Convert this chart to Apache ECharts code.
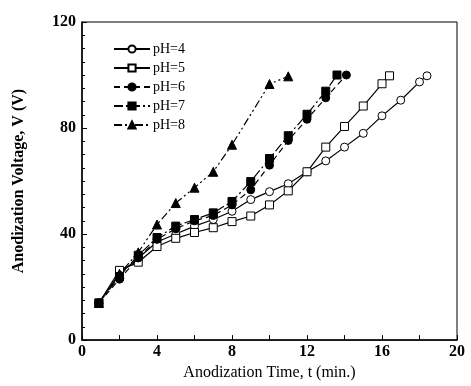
<!DOCTYPE html>
<html><head><meta charset="utf-8">
<script src="https://cdn.jsdelivr.net/npm/echarts@6/dist/echarts.min.js"></script>
<style>html,body{margin:0;padding:0;background:#fff}#c{width:471px;height:386px}</style>
</head><body><div id="c"></div>
<script>
var xTicks = [0, 4, 8, 12, 16, 20];
var yTicks = [0, 40, 80, 120];
var names = ['pH=4', 'pH=5', 'pH=6', 'pH=7', 'pH=8'];
var t4 = [0.9, 2, 3, 4, 5, 6, 7, 8, 9, 10, 11, 12, 13, 14, 15, 16, 17, 18, 18.4];
var v4 = [14, 25, 31, 37, 40, 43, 45.5, 48.6, 53, 56, 59, 63.5, 67.6, 72.8, 78, 84.6, 90.5, 97.4, 99.7];
var t5 = [0.9, 2, 3, 4, 5, 6, 7, 8, 9, 10, 11, 12, 13, 14, 15, 16, 16.4];
var v5 = [14, 26.3, 29.4, 35.3, 38.4, 40.6, 42.4, 44.7, 46.8, 51, 56.3, 63.5, 72.8, 80.6, 88.3, 96.7, 99.7];
var t6 = [0.9, 2, 3, 4, 5, 6, 7, 8, 9, 10, 11, 12, 13, 14.1];
var v6 = [14, 23, 31, 38, 42, 45, 47, 51, 56.7, 66, 75.3, 83.3, 91.4, 100];
var t7 = [0.9, 2, 3, 4, 5, 6, 7, 8, 9, 10, 11, 12, 13, 13.6];
var v7 = [14, 24, 32, 38.7, 43, 45.5, 48, 52.3, 59.8, 68.5, 77.1, 85.2, 93.9, 100];
var t8 = [0.9, 2, 3, 4, 5, 6, 7, 8, 10, 11];
var v8 = [14, 25, 33.1, 43.6, 51.7, 57.5, 63.5, 73.7, 96.6, 99.5];

function pairs(t, v) { return t.map(function (x, i) { return [x, v[i]]; }); }
var font = 'Liberation Serif, Times New Roman, serif';
var styles = [
  {sym: 'circle', fill: '#fff', type: 'solid'},
  {sym: 'rect', fill: '#fff', type: 'solid'},
  {sym: 'circle', fill: '#000', type: [6, 4]},
  {sym: 'rect', fill: '#000', type: [9, 3, 2, 3]},
  {sym: 'triangle', fill: '#000', type: [8, 3, 2, 3, 2, 3]}
];
var data = [pairs(t4, v4), pairs(t5, v5), pairs(t6, v6), pairs(t7, v7), pairs(t8, v8)];
var series = names.map(function (n, i) {
  return {
    name: n, type: 'line', data: data[i], symbol: styles[i].sym,
    symbolSize: styles[i].sym === 'triangle' ? 9 : 8,
    itemStyle: {color: styles[i].fill, borderColor: '#000', borderWidth: 1},
    lineStyle: {color: '#000', width: 1.2, type: styles[i].type},
    z: 2 + i
  };
});
var chart = echarts.init(document.getElementById('c'));
chart.setOption({
  animation: false,
  backgroundColor: '#fff',
  grid: {left: 82, right: 14, top: 22, bottom: 42, show: true, borderColor: '#000', borderWidth: 1},
  legend: {
    orient: 'vertical', left: 108, top: 37, itemWidth: 36, itemHeight: 9, itemGap: 5,
    data: names, textStyle: {fontFamily: font, fontSize: 14, color: '#000', padding: [0, 0, 0, -2]}
  },
  xAxis: {
    type: 'value', min: xTicks[0], max: xTicks[xTicks.length - 1], interval: 4,
    name: 'Anodization Time, t (min.)', nameLocation: 'middle', nameGap: 22,
    nameTextStyle: {fontFamily: font, fontSize: 16, color: '#000'},
    axisLine: {lineStyle: {color: '#000', width: 1.5}},
    axisTick: {inside: true, length: 5, lineStyle: {color: '#000'}},
    minorTick: {show: true, splitNumber: 2, length: 5, lineStyle: {color: '#000'}},
    axisLabel: {fontFamily: font, fontSize: 16, fontWeight: 'bold', color: '#000', margin: 4},
    splitLine: {show: false}
  },
  yAxis: {
    type: 'value', min: yTicks[0], max: yTicks[yTicks.length - 1], interval: 40,
    name: 'Anodization Voltage, V (V)', nameLocation: 'middle', nameGap: 55,
    nameTextStyle: {fontFamily: font, fontSize: 16, fontWeight: 'bold', color: '#000'},
    axisLine: {lineStyle: {color: '#000', width: 1.5}},
    axisTick: {inside: true, length: 5, lineStyle: {color: '#000'}},
    minorTick: {show: true, splitNumber: 8, length: 3, lineStyle: {color: '#000'}},
    axisLabel: {fontFamily: font, fontSize: 16, fontWeight: 'bold', color: '#000', margin: 6},
    splitLine: {show: false}
  },
  series: series
});
</script></body></html>
